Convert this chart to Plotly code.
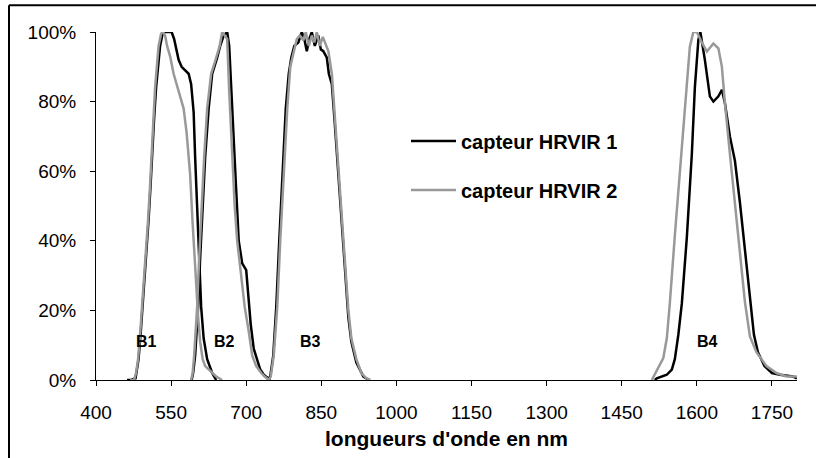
import plotly.graph_objects as go

# ---- data: relative spectral response (%) vs wavelength (nm) ----
# capteur HRVIR 1 (black)
wl1_b1 = [462, 470, 479, 485, 490, 495, 500, 505, 509, 512, 516, 520, 524, 528, 533, 538, 545, 551, 556, 565, 571, 578, 585, 590, 595, 598, 602, 605, 610, 615, 622, 632, 640]
r1_b1 = [0, 0, 0.5, 6, 15, 25, 36, 46, 56, 65, 75, 84, 91, 96, 99.5, 100, 100, 100, 98, 92, 90, 89, 88, 85, 77, 64, 50, 35, 21, 12, 6, 2, 0]
wl1_b2 = [591, 594, 598, 604, 608, 613, 618, 625, 632, 642, 648, 655, 662, 666, 670, 675, 680, 685, 692, 700, 704, 709, 715, 721, 728, 735, 748]
r1_b2 = [0, 2, 7, 21, 35, 50, 64, 78, 88, 92.6, 96, 99, 100, 96, 83, 69, 54.5, 40, 33.5, 31.6, 24, 16, 9, 6, 3, 1.5, 0]
wl1_b3 = [742, 748, 754, 760, 766, 772, 779, 785, 790, 796, 804, 811, 816, 821, 826, 831, 837, 844, 849, 854, 861, 865, 871, 877, 884, 890, 897, 904, 910, 920, 934, 945]
r1_b3 = [0, 1, 7, 21, 40, 59, 78, 88, 92.6, 96, 97, 100, 98, 94.5, 98, 100, 96, 99, 95, 94.5, 92.6, 88, 85, 73.5, 59, 45, 31, 18, 11, 5, 1, 0]
wl1_b4 = [1516, 1520, 1540, 1550, 1556, 1563, 1570, 1580, 1590, 1596, 1603, 1607, 1616, 1626, 1633, 1643, 1650, 1656, 1666, 1676, 1686, 1696, 1706, 1714, 1722, 1735, 1750, 1766, 1792, 1800]
r1_b4 = [0, 0.5, 1.5, 3, 6, 13, 22, 41, 65, 84, 97.7, 100, 92, 81.5, 80, 81.5, 83.4, 79.6, 70, 63, 51, 36.7, 22.4, 13, 8, 4, 2, 1.5, 1, 0.5]

# capteur HRVIR 2 (grey)
wl2_b1 = [468, 476, 480, 484, 489, 494, 499, 504, 508, 511, 515, 518, 522, 525, 530, 534, 538, 542, 548, 555, 565, 575, 581, 588, 593, 598, 604, 608, 613, 618, 628, 640, 652]
r2_b1 = [0, 0, 2, 6, 15, 25, 36, 46, 56, 65, 75, 84, 91, 96, 99.5, 100, 99, 96, 93, 88, 83, 78, 71, 59, 45, 31, 18, 11, 6, 4, 2.5, 1, 0]
wl2_b2 = [590, 593, 596, 602, 606, 611, 616, 622, 630, 640, 647, 652, 657, 662, 666, 672, 677, 682, 689, 697, 705, 712, 720, 730, 737, 745]
r2_b2 = [0, 2, 7, 21, 35, 50, 64, 78, 88, 92.6, 96, 100, 99, 98, 83, 64, 50, 40, 30.7, 21, 14, 7, 4, 2, 1, 0]
wl2_b3 = [745, 749, 755, 762, 768, 775, 782, 788, 794, 801, 807, 814, 819, 825, 831, 836, 841, 847, 853, 857, 864, 871, 877, 884, 890, 897, 904, 910, 920, 930, 940, 948]
r2_b3 = [0, 1, 7, 21, 40, 59, 78, 90, 93.5, 98, 99, 97.6, 100, 96, 99, 97, 100, 96, 98.6, 97, 94.5, 88, 76, 62, 48, 34, 20, 12, 6, 2, 0.5, 0]
wl2_b4 = [1510, 1516, 1526, 1533, 1540, 1546, 1556, 1566, 1576, 1586, 1593, 1600, 1610, 1620, 1633, 1643, 1650, 1656, 1666, 1676, 1686, 1696, 1706, 1719, 1739, 1759, 1779, 1800]
r2_b4 = [0, 1.6, 4.4, 6.3, 12, 22, 41.5, 60.5, 79.6, 95.8, 100, 100, 97, 94.4, 96.7, 95.3, 90, 79.6, 65, 51, 36.7, 22.4, 12.5, 8, 4, 2, 1, 1]

series_names = ["capteur HRVIR 1", "capteur HRVIR 2"]
band_labels = ["B1", "B2", "B3", "B4"]
band_label_x = [500, 656, 829, 1622]
band_label_y = [11, 11, 11, 11]
x_ticks = [400, 550, 700, 850, 1000, 1150, 1300, 1450, 1600, 1750]
y_ticks = [0, 20, 40, 60, 80, 100]
y_tick_text = ["0%", "20%", "40%", "60%", "80%", "100%"]


def join(wls, rs):
    xs, ys = [], []
    for w, r in zip(wls, rs):
        if xs:
            xs.append(None)
            ys.append(None)
        xs.extend(w)
        ys.extend(r)
    return xs, ys


x1, y1 = join([wl1_b1, wl1_b2, wl1_b3, wl1_b4], [r1_b1, r1_b2, r1_b3, r1_b4])
x2, y2 = join([wl2_b1, wl2_b2, wl2_b3, wl2_b4], [r2_b1, r2_b2, r2_b3, r2_b4])

FONT = "Liberation Sans, Arial, sans-serif"

fig = go.Figure()
fig.add_trace(go.Scatter(x=x1, y=y1, mode="lines", name=series_names[0],
                         line=dict(color="#000000", width=2.5),
                         connectgaps=False, legendgroup="a"))
fig.add_trace(go.Scatter(x=x2, y=y2, mode="lines", name=series_names[1],
                         line=dict(color="#999999", width=2.5),
                         connectgaps=False, legendgroup="b"))

for lab, lx, ly in zip(band_labels, band_label_x, band_label_y):
    fig.add_annotation(x=lx, y=ly, text="<b>%s</b>" % lab, showarrow=False,
                       font=dict(family=FONT, size=16, color="#000"))

# outer frame: left and top edges of the chart border
fx0 = (9 - 96) / 701
fy1 = (382 - 5) / 350
fig.add_shape(type="line", xref="paper", yref="paper",
              x0=fx0, x1=fx0, y0=(382 - 470) / 350, y1=fy1,
              line=dict(color="#000", width=2))
fig.add_shape(type="line", xref="paper", yref="paper",
              x0=fx0, x1=(840 - 96) / 701, y0=fy1, y1=fy1,
              line=dict(color="#000", width=2))

fig.update_layout(
    width=816, height=458,
    margin=dict(l=96, r=19, t=32, b=76),
    paper_bgcolor="white", plot_bgcolor="white",
    font=dict(family=FONT, color="#000"),
    showlegend=True,
    legend=dict(x=(406 - 96) / 701, y=(382 - 122) / 350, xanchor="left", yanchor="top",
                font=dict(family=FONT, size=20, color="#000", weight="bold"),
                bgcolor="rgba(0,0,0,0)", tracegroupgap=20, itemwidth=45),
    xaxis=dict(range=[400, 1800], tickvals=x_ticks, ticks="outside", ticklen=5,
               tickcolor="#000", showline=True, linecolor="#000", linewidth=1,
               showgrid=False, zeroline=False, tickfont=dict(size=19, family=FONT, color="#000"),
               ticklabelstandoff=10,
               title=dict(text="<b>longueurs d'onde en nm</b>", font=dict(size=21, family=FONT, color="#000"),
                          standoff=9)),
    yaxis=dict(range=[0, 100], tickvals=y_ticks, ticktext=y_tick_text, ticks="outside", ticklen=5,
               tickcolor="#000", showline=True, linecolor="#000", linewidth=1,
               showgrid=False, zeroline=False, tickfont=dict(size=19, family=FONT, color="#000"),
               ticklabelstandoff=10),
)

fig.write_html("out.html", config={"displayModeBar": False},
               post_script="document.body.style.margin='0';document.body.style.overflow='hidden';")
